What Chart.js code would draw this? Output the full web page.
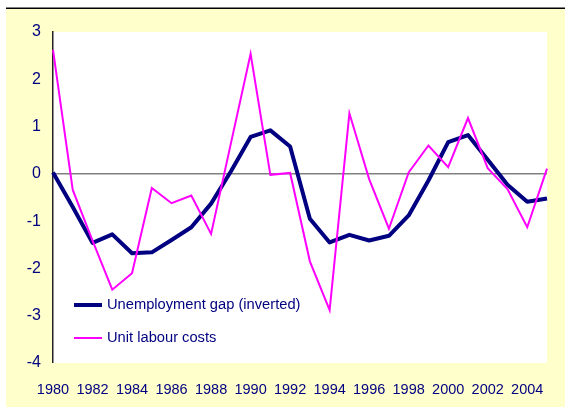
<!DOCTYPE html>
<html>
<head>
<meta charset="utf-8">
<script src="https://cdn.jsdelivr.net/npm/chart.js@4/dist/chart.umd.min.js"></script>
<style>
html,body{margin:0;padding:0;background:#fff;}
canvas{display:block;}
</style>
</head>
<body>
<canvas id="c" width="565" height="407"></canvas>
<script>
const years = ["1980","1981","1982","1983","1984","1985","1986","1987","1988","1989","1990","1991","1992","1993","1994","1995","1996","1997","1998","1999","2000","2001","2002","2003","2004","2005"];
const unemploymentGap = [0.03,-0.70,-1.46,-1.28,-1.68,-1.66,-1.40,-1.13,-0.63,0.05,0.78,0.92,0.58,-0.95,-1.45,-1.29,-1.41,-1.31,-0.88,-0.14,0.67,0.82,0.30,-0.23,-0.59,-0.52];
const unitLabourCosts = [2.62,-0.34,-1.41,-2.45,-2.10,-0.30,-0.62,-0.46,-1.27,0.64,2.54,-0.02,0.02,-1.85,-2.88,1.28,-0.11,-1.16,0.03,0.60,0.14,1.18,0.12,-0.32,-1.13,0.11];
const seriesNames = ["Unemployment gap (inverted)","Unit labour costs"];
const yTicks = [3,2,1,0,-1,-2,-3,-4];

const FONT = "'Liberation Sans',Arial,sans-serif";
const TEXT = '#000080';

const bgPlugin = {
  id:'bg',
  beforeDraw(chart){
    const ctx = chart.ctx, a = chart.chartArea;
    ctx.save();
    ctx.fillStyle = '#ffffff';
    ctx.fillRect(0,0,chart.width,chart.height);
    ctx.fillStyle = '#ffffcc';
    ctx.fillRect(6,9,chart.width-6,chart.height-9);
    ctx.fillStyle = '#000000';
    ctx.fillRect(6,7.5,chart.width-6,1.5);
    ctx.fillStyle = '#ffffff';
    ctx.fillRect(a.left,a.top,a.right-a.left,a.bottom-a.top);
    ctx.restore();
  }
};

const legendPlugin = {
  id:'lg',
  afterDatasetsDraw(chart){
    const ctx = chart.ctx, a = chart.chartArea;
    const rows = [
      {ds: chart.data.datasets[0], y: a.bottom - 58},
      {ds: chart.data.datasets[1], y: a.bottom - 25}
    ];
    ctx.save();
    rows.forEach(r=>{
      ctx.strokeStyle = r.ds.borderColor;
      ctx.lineWidth = r.ds.borderWidth;
      ctx.beginPath();
      ctx.moveTo(a.left+21, r.y);
      ctx.lineTo(a.left+49, r.y);
      ctx.stroke();
      ctx.fillStyle = TEXT;
      ctx.font = '14.7px ' + FONT;
      ctx.textBaseline = 'middle';
      ctx.textAlign = 'left';
      ctx.fillText(r.ds.label, a.left+54, r.y);
    });
    ctx.restore();
  }
};

new Chart(document.getElementById('c'), {
  type:'line',
  data:{
    labels: years,
    datasets:[
      {label: seriesNames[0], data: unemploymentGap, borderColor:'#000080', borderWidth:4, pointRadius:0, tension:0, fill:false, order:1, borderJoinStyle:'round'},
      {label: seriesNames[1], data: unitLabourCosts, borderColor:'#ff00ff', borderWidth:2, pointRadius:0, tension:0, fill:false, order:0}
    ]
  },
  options:{
    responsive:false,
    animation:false,
    devicePixelRatio:1,
    layout:{padding:{top:32,right:16,left:0,bottom:0}},
    plugins:{legend:{display:false},tooltip:{enabled:false}},
    scales:{
      x:{
        type:'category',
        offset:false,
        grid:{display:false, drawTicks:false},
        border:{display:false},
        ticks:{
          autoSkip:false, maxRotation:0, minRotation:0,
          color:TEXT, font:{family:FONT,size:14.5}, padding:18,
          callback(v,i){ return i%2===0 ? years[i] : ''; }
        },
        afterFit(s){ s.height = 44; }
      },
      y:{
        min:-4, max:3,
        afterBuildTicks(s){ s.ticks = yTicks.map(v=>({value:v})); },
        grid:{
          drawTicks:false,
          color(c){ return c.tick && c.tick.value===0 ? '#808080' : 'rgba(0,0,0,0)'; },
          lineWidth(c){ return c.tick && c.tick.value===0 ? 1.5 : 0; }
        },
        border:{display:true,color:'#222222',width:1.5},
        ticks:{color:TEXT, font:{family:FONT,size:16}, padding:12},
        afterFit(s){ s.width = 53; }
      }
    }
  },
  plugins:[bgPlugin, legendPlugin]
});
</script>
</body>
</html>
